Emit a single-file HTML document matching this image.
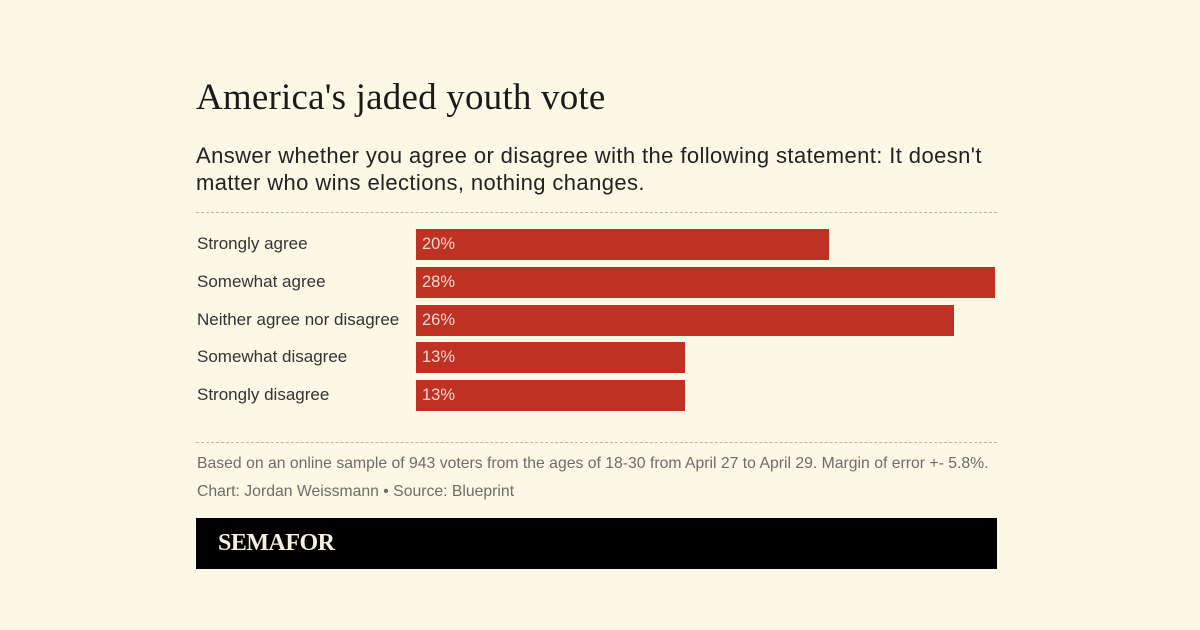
<!DOCTYPE html>
<html><head><meta charset="utf-8"><style>
body{margin:0;width:1200px;height:630px;background:#fcf8e6;position:relative;overflow:hidden;font-family:"Liberation Sans",sans-serif}
.a{position:absolute}
.title{left:196px;top:76px;font-family:"Liberation Serif",serif;font-size:37px;color:#1a1a1a;letter-spacing:0.2px;white-space:nowrap}
.sub{left:196px;top:142px;width:810px;font-size:22px;letter-spacing:0.4px;line-height:27px;color:#222}
.dash{left:196px;width:801px;border-top:1px dashed #b8b5a6;height:0}
.lbl{left:197px;font-size:17px;color:#333;white-space:nowrap}
.bar{left:416px;height:31px;background:#bf3122;color:#f3d9cf;font-size:16.5px;line-height:31px;padding-left:6px;box-sizing:border-box}
.foot{left:197px;font-size:16px;color:#6e6c66;transform:scaleX(0.985);transform-origin:left;white-space:nowrap}
.logo{left:196px;top:518px;width:801px;height:51px;background:#000}
.logo span{position:absolute;left:22px;top:12px;font-family:"Liberation Serif",serif;font-weight:bold;font-size:24px;color:#f5f0dc;letter-spacing:-0.5px}
</style></head><body>
<div class="a title">America's jaded youth vote</div>
<div class="a sub">Answer whether you agree or disagree with the following statement: It doesn't matter who wins elections, nothing changes.</div>
<div class="a dash" style="top:212px"></div>
<div class="a lbl" style="top:234px">Strongly agree</div>
<div class="a lbl" style="top:272px">Somewhat agree</div>
<div class="a lbl" style="top:310px">Neither agree nor disagree</div>
<div class="a lbl" style="top:347px">Somewhat disagree</div>
<div class="a lbl" style="top:385px">Strongly disagree</div>
<div class="a bar" style="top:229px;width:413px">20%</div>
<div class="a bar" style="top:267px;width:579px">28%</div>
<div class="a bar" style="top:305px;width:538px">26%</div>
<div class="a bar" style="top:342px;width:269px">13%</div>
<div class="a bar" style="top:380px;width:269px">13%</div>
<div class="a dash" style="top:442px"></div>
<div class="a foot" style="top:455px">Based on an online sample of 943 voters from the ages of 18-30 from April 27 to April 29. Margin of error +- 5.8%.</div>
<div class="a foot" style="top:483px">Chart: Jordan Weissmann • Source: Blueprint</div>
<div class="a logo"><span>SEMAFOR</span></div>
</body></html>
